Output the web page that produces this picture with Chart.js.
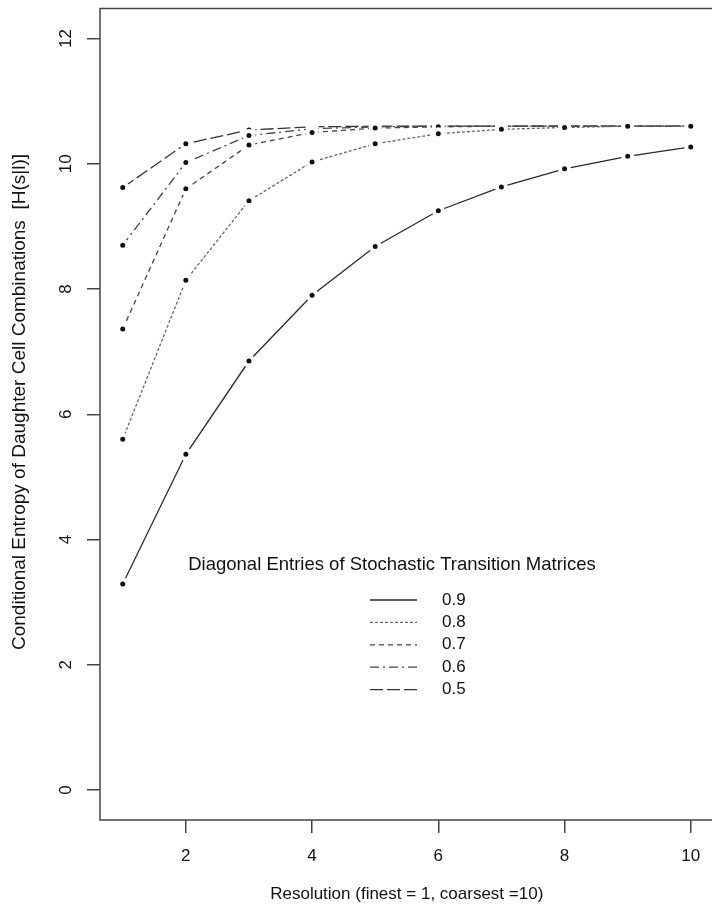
<!DOCTYPE html>
<html>
<head>
<meta charset="utf-8">
<script src="https://cdn.jsdelivr.net/npm/chart.js@4"></script>
<style>
  html, body { margin: 0; padding: 0; background: #fff; overflow: hidden; }
  #wrap { width: 722px; height: 914px; }
</style>
</head>
<body>
<div id="wrap"><canvas id="c" width="722" height="914"></canvas></div>
<script>
const resolution = [1, 2, 3, 4, 5, 6, 7, 8, 9, 10];
const xTicks = [2, 4, 6, 8, 10];
const yTicks = [0, 2, 4, 6, 8, 10, 12];

const labels = ["0.9", "0.8", "0.7", "0.6", "0.5"];
const h09 = [3.29, 5.36, 6.85, 7.90, 8.68, 9.25, 9.63, 9.92, 10.12, 10.27];
const h08 = [5.60, 8.14, 9.41, 10.03, 10.32, 10.48, 10.55, 10.58, 10.60, 10.60];
const h07 = [7.36, 9.60, 10.30, 10.50, 10.57, 10.59, 10.60, 10.60, 10.60, 10.60];
const h06 = [8.70, 10.02, 10.45, 10.56, 10.59, 10.60, 10.60, 10.60, 10.60, 10.60];
const h05 = [9.62, 10.32, 10.54, 10.59, 10.60, 10.60, 10.60, 10.60, 10.60, 10.60];

const FONT = "'Liberation Sans', Arial, sans-serif";
const yTitle = "Conditional Entropy of Daughter Cell Combinations  [H(s|l)]";
const series = [h09, h08, h07, h06, h05];
const dashes = [[], [3, 2], [5, 4], [9, 4, 2, 4], [13, 4]];
const colors = ["#2a2a2a", "#666", "#444", "#444", "#333"];

const datasets = series.map((s, i) => ({
  label: labels[i],
  data: resolution.map((x, j) => ({ x: x, y: s[j] })),
  borderColor: colors[i],
  borderWidth: 1.3,
  borderDash: dashes[i],
  pointRadius: 4.5,
  pointBorderWidth: 4,
  pointBackgroundColor: "#111",
  pointBorderColor: "#fff",
  tension: 0
}));

// box, rotated y labels + title, legend
const decor = {
  id: "decor",
  beforeDatasetsDraw(chart) {
    const { ctx, chartArea: a } = chart;
    ctx.save();
    ctx.strokeStyle = "#444";
    ctx.lineWidth = 1.5;
    ctx.strokeRect(a.left, a.top, a.right - a.left, a.bottom - a.top);
    ctx.restore();
  },
  afterDraw(chart) {
    const { ctx } = chart;
    const ys = chart.scales.y;
    ctx.save();
    ctx.fillStyle = "#111";
    ctx.font = "17px " + FONT;
    ctx.textAlign = "center";
    ctx.textBaseline = "middle";
    yTicks.forEach(v => {
      ctx.save();
      ctx.translate(66, ys.getPixelForValue(v));
      ctx.rotate(-Math.PI / 2);
      ctx.fillText(String(v), 0, 0);
      ctx.restore();
    });
    ctx.save();
    ctx.font = "19px " + FONT;
    ctx.translate(20, 402);
    ctx.rotate(-Math.PI / 2);
    ctx.fillText(yTitle, 0, 0);
    ctx.restore();

    // legend
    ctx.font = "18.5px " + FONT;
    ctx.fillText("Diagonal Entries of Stochastic Transition Matrices", 392, 565);
    ctx.textAlign = "left";
    ctx.font = "17px " + FONT;
    chart.data.datasets.forEach((d, i) => {
      const y = 600 + i * 22.4;
      ctx.strokeStyle = d.borderColor;
      ctx.lineWidth = 1.3;
      ctx.setLineDash(d.borderDash);
      ctx.beginPath();
      ctx.moveTo(370, y);
      ctx.lineTo(417, y);
      ctx.stroke();
      ctx.setLineDash([]);
      ctx.fillText(d.label, 442, y);
    });
    ctx.restore();
  }
};

new Chart(document.getElementById("c"), {
  type: "line",
  data: { datasets: datasets },
  plugins: [decor],
  options: {
    responsive: false,
    animation: false,
    events: [],
    layout: { padding: { top: 5, right: 3, left: 0, bottom: 0 } },
    plugins: { legend: { display: false }, tooltip: { enabled: false } },
    scales: {
      x: {
        type: "linear",
        min: 0.64,
        max: 10.36,
        afterBuildTicks: s => { s.ticks = xTicks.map(v => ({ value: v })); },
        afterFit: s => { s.height = 94; },
        grid: { drawOnChartArea: false, tickLength: 13, color: "#444", lineWidth: 1.5 },
        border: { display: false },
        ticks: { color: "#111", font: { family: FONT, size: 17 }, padding: 13, maxRotation: 0 },
        title: {
          display: true,
          text: "Resolution (finest = 1, coarsest =10)",
          color: "#111",
          font: { family: FONT, size: 17 },
          padding: { top: 0, bottom: 9 }
        }
      },
      y: {
        type: "linear",
        min: -0.48,
        max: 12.48,
        afterBuildTicks: s => { s.ticks = yTicks.map(v => ({ value: v })); },
        afterFit: s => { s.width = 100; },
        grid: { drawOnChartArea: false, tickLength: 13, color: "#444", lineWidth: 1.5 },
        border: { display: false },
        ticks: { display: false }
      }
    }
  }
});
</script>
</body>
</html>
